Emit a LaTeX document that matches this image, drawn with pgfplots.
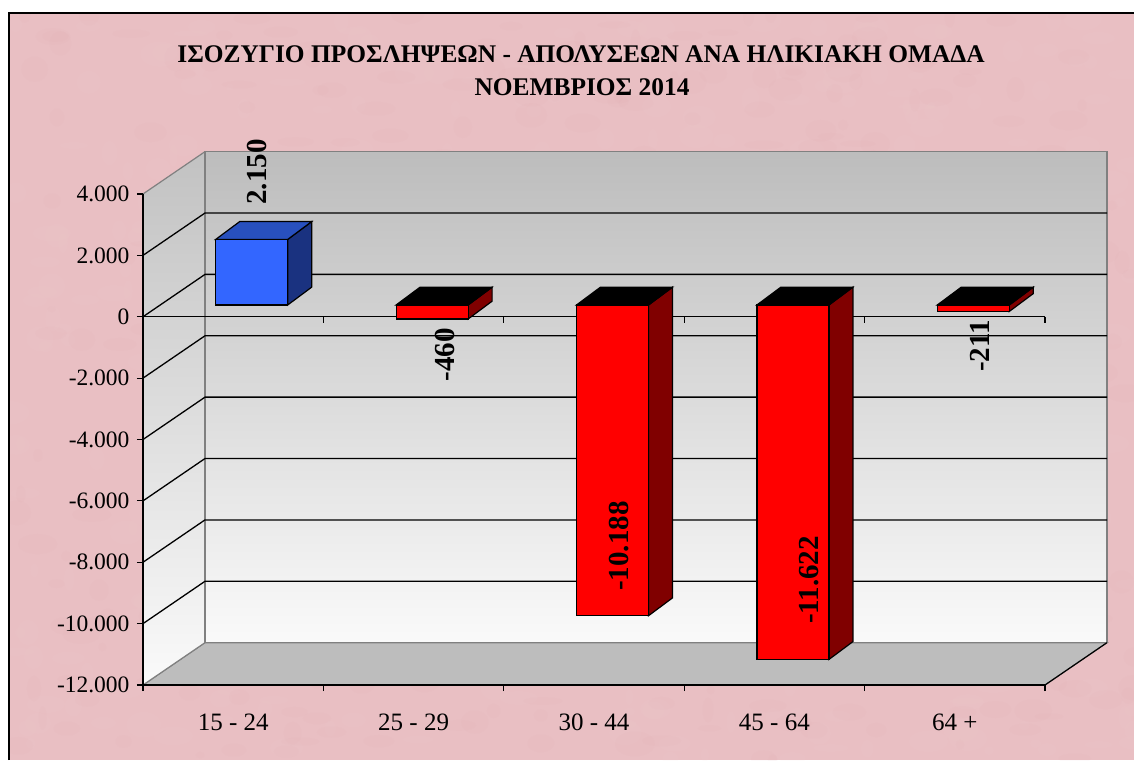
\documentclass[border=0pt]{standalone}
\usepackage{pgfplots}
\pgfplotsset{compat=1.18}
\usepackage{fontspec}
\setmainfont{Liberation Serif}
\definecolor{pinkbg}{HTML}{E9BFC3}
\definecolor{blotchd}{HTML}{D8A4AA}
\definecolor{blotchl}{HTML}{F6D2D4}
\definecolor{wallgray}{HTML}{808080}
\definecolor{blueface}{HTML}{3366FF}
\definecolor{bluetop}{HTML}{2850BE}
\definecolor{blueside}{HTML}{1A3280}
\definecolor{redside}{HTML}{800000}
\newcommand{\sz}[1]{\fontsize{#1}{#1}\selectfont}
\begin{document}
\begin{tikzpicture}[x=1pt,y=1pt]
\useasboundingbox (0,0) rectangle (1134,760);
\fill[white] (0,0) rectangle (1134,760);
\fill[pinkbg] (9,0) rectangle (1134,747);
% faint mottling of the paper
\begin{scope}
\clip (9,0) rectangle (1134,747);
\pgfmathsetseed{17}
\foreach \i in {1,...,450}{
  \pgfmathsetmacro{\px}{9+1125*rnd}
  \pgfmathsetmacro{\py}{747*rnd}
  \pgfmathsetmacro{\ra}{4+16*rnd}
  \pgfmathsetmacro{\rb}{3+10*rnd}
  \fill[blotchd,opacity=0.05] (\px,\py) ellipse [x radius=\ra,y radius=\rb];
  \pgfmathsetmacro{\px}{9+1125*rnd}
  \pgfmathsetmacro{\py}{747*rnd}
  \pgfmathsetmacro{\ra}{4+16*rnd}
  \pgfmathsetmacro{\rb}{3+10*rnd}
  \fill[blotchl,opacity=0.06] (\px,\py) ellipse [x radius=\ra,y radius=\rb];
}
\end{scope}
\draw[black,line width=1.5] (9,0) -- (9,747) -- (1134,747);
\node[font=\bfseries\sz{25.4}] at (581,706) {ΙΣΟΖΥΓΙΟ ΠΡΟΣΛΗΨΕΩΝ - ΑΠΟΛΥΣΕΩΝ ΑΝΑ ΗΛΙΚΙΑΚΗ ΟΜΑΔΑ};
\node[font=\bfseries\sz{25.4}] at (582,673) {ΝΟΕΜΒΡΙΟΣ 2014};
\begin{axis}[
  at={(143pt,75pt)},anchor=south west,scale only axis,width=902pt,height=491pt,
  xmin=0,xmax=5,ymin=-12000,ymax=4000,clip=false,axis on top,
  axis lines=left,axis line style={-,black,line width=1.4pt},
  scaled y ticks=false,
  xtick={0,1,2,3,4,5},x tick label as interval,
  xticklabels={15 - 24,25 - 29,30 - 44,45 - 64,64 +},
  ytick={-12000,-10000,-8000,-6000,-4000,-2000,0,2000,4000},
  yticklabels={-12.000,-10.000,-8.000,-6.000,-4.000,-2.000,0,2.000,4.000},
  tick style={black,line width=1.2pt},major tick length=6pt,tick align=outside,
  ticklabel style={font=\sz{23.5}},
  x tick label style={yshift=-19pt,font=\sz{25}},y tick label style={xshift=-4pt},
]
% floor
\addplot[fill=black!26,draw=wallgray,line width=1.2pt] coordinates {(0,-12000)(0.3437,-10620)(5.3437,-10620)(5,-12000)} --cycle;
% side wall
\addplot[top color=black!24,bottom color=black!2,draw=none] coordinates {(0,4000)(0.3437,5380)(0.3437,-10620)(0,-12000)} --cycle;
% back wall
\addplot[top color=black!26,bottom color=black!2,draw=wallgray,line width=1.4pt] coordinates {(0.3437,5380)(5.3437,5380)(5.3437,-10620)(0.3437,-10620)} --cycle;
\addplot[wallgray,line width=1.2pt] coordinates {(0,4000)(0.3437,5380)};
\addplot[wallgray,line width=1.2pt] coordinates {(0,-12000)(0.3437,-10620)};
\addplot[black,line width=1.2pt] coordinates {(5,-12000)(5.3437,-10620)};
% gridlines on the walls
\addplot[black,line width=1.3pt] coordinates {(0,2000)(0.3437,3380)(5.3437,3380)};
\addplot[black,line width=1.3pt] coordinates {(0,0)(0.3437,1380)(5.3437,1380)};
\addplot[black,line width=1.3pt] coordinates {(0,-2000)(0.3437,-620)(5.3437,-620)};
\addplot[black,line width=1.3pt] coordinates {(0,-4000)(0.3437,-2620)(5.3437,-2620)};
\addplot[black,line width=1.3pt] coordinates {(0,-6000)(0.3437,-4620)(5.3437,-4620)};
\addplot[black,line width=1.3pt] coordinates {(0,-8000)(0.3437,-6620)(5.3437,-6620)};
\addplot[black,line width=1.3pt] coordinates {(0,-10000)(0.3437,-8620)(5.3437,-8620)};
% zero line and its ticks
\addplot[black,line width=1.5pt] coordinates {(0,0)(5,0)};
\addplot[black,line width=1.2pt] coordinates {(1,0)(1,-195)};
\addplot[black,line width=1.2pt] coordinates {(2,0)(2,-195)};
\addplot[black,line width=1.2pt] coordinates {(3,0)(3,-195)};
\addplot[black,line width=1.2pt] coordinates {(4,0)(4,-195)};
\addplot[black,line width=1.2pt] coordinates {(5,0)(5,-195)};
\end{axis}
\begin{axis}[
  at={(161.5pt,89pt)},anchor=south west,scale only axis,width=902pt,height=488pt,
  xmin=0,xmax=5,ymin=-12000,ymax=4000,clip=false,hide axis,
]
% blue bar: side, top, front
\addplot[fill=blueside,draw=black,line width=1.2pt] coordinates {(0.6996,0)(0.6996,2150)(0.8326,2735)(0.8326,585)} --cycle;
\addplot[fill=bluetop,draw=black,line width=1.2pt] coordinates {(0.3004,2150)(0.6996,2150)(0.8326,2735)(0.4334,2735)} --cycle;
\addplot[ybar,bar width=72pt,fill=blueface,draw=black,line width=1.2pt] coordinates {(0.5,2150)};
% 25-29
\addplot[fill=redside,draw=black,line width=1.2pt] coordinates {(1.6996,-460)(1.6996,0)(1.8326,585)(1.8326,125)} --cycle;
\addplot[fill=black,draw=black,line width=1.2pt] coordinates {(1.3004,0)(1.6996,0)(1.8326,585)(1.4334,585)} --cycle;
\addplot[ybar,bar width=72pt,fill=red,draw=black,line width=1.2pt] coordinates {(1.5,-460)};
% 30-44
\addplot[fill=redside,draw=black,line width=1.2pt] coordinates {(2.6996,-10188)(2.6996,0)(2.8326,585)(2.8326,-9603)} --cycle;
\addplot[fill=black,draw=black,line width=1.2pt] coordinates {(2.3004,0)(2.6996,0)(2.8326,585)(2.4334,585)} --cycle;
\addplot[ybar,bar width=72pt,fill=red,draw=black,line width=1.2pt] coordinates {(2.5,-10188)};
% 45-64
\addplot[fill=redside,draw=black,line width=1.2pt] coordinates {(3.6996,-11622)(3.6996,0)(3.8326,585)(3.8326,-11037)} --cycle;
\addplot[fill=black,draw=black,line width=1.2pt] coordinates {(3.3004,0)(3.6996,0)(3.8326,585)(3.4334,585)} --cycle;
\addplot[ybar,bar width=72pt,fill=red,draw=black,line width=1.2pt] coordinates {(3.5,-11622)};
% 64+
\addplot[fill=redside,draw=black,line width=1.2pt] coordinates {(4.6996,-211)(4.6996,0)(4.8326,585)(4.8326,374)} --cycle;
\addplot[fill=black,draw=black,line width=1.2pt] coordinates {(4.3004,0)(4.6996,0)(4.8326,585)(4.4334,585)} --cycle;
\addplot[ybar,bar width=72pt,fill=red,draw=black,line width=1.2pt] coordinates {(4.5,-211)};
\end{axis}
\node[rotate=90,font=\bfseries\sz{29}] at (257,588) {2.150};
\node[rotate=90,font=\bfseries\sz{29}] at (445,405) {-460};
\node[rotate=90,font=\bfseries\sz{29}] at (619,214) {-10.188};
\node[rotate=90,font=\bfseries\sz{29}] at (809,180) {-11.622};
\node[rotate=90,font=\bfseries\sz{29}] at (980,414) {-211};
\end{tikzpicture}
\end{document}
